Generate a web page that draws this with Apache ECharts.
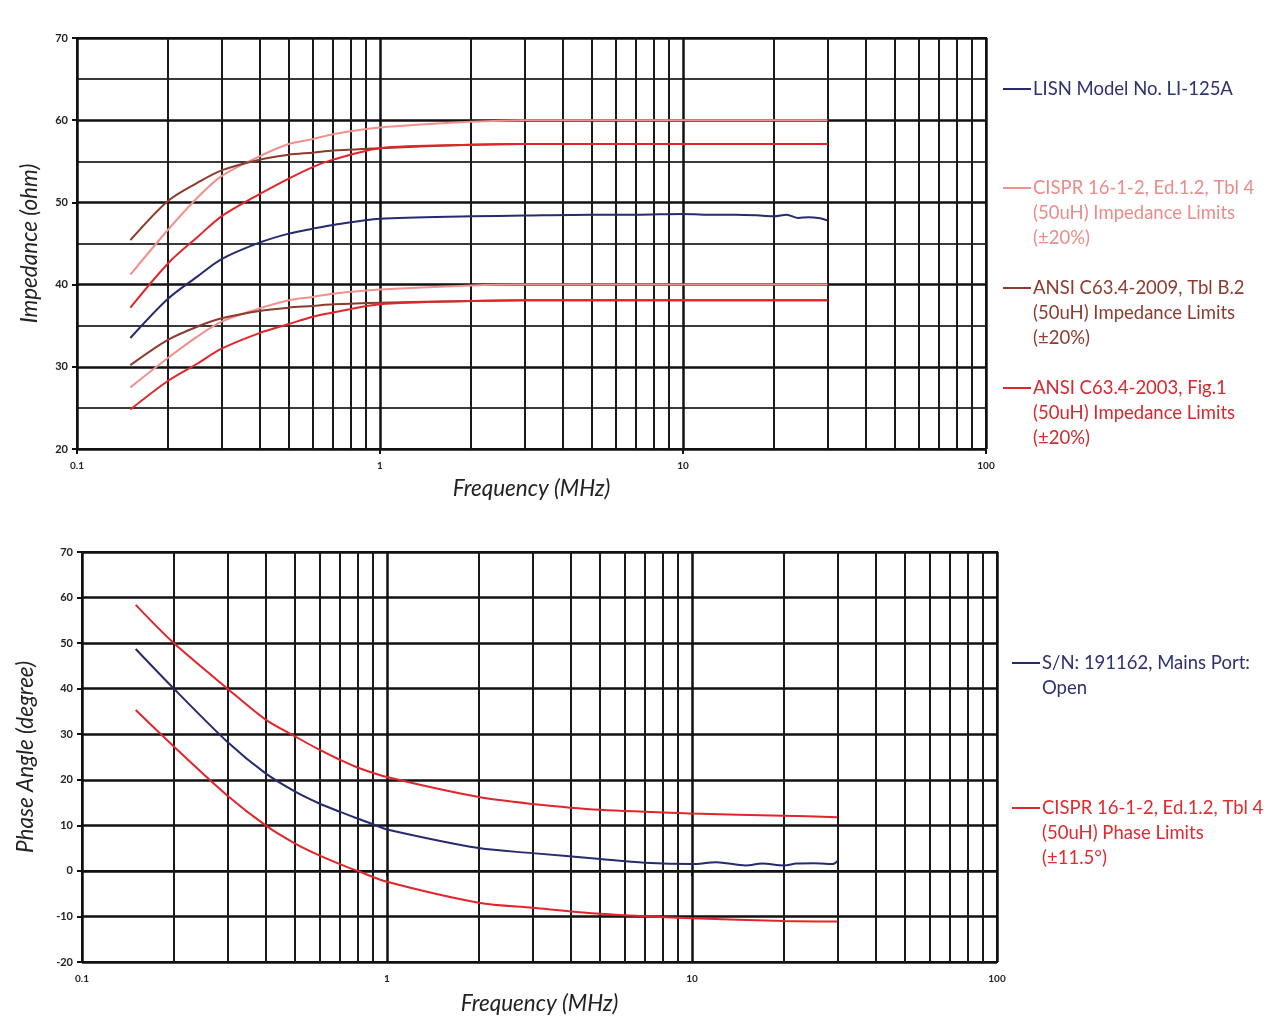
<!DOCTYPE html>
<html><head><meta charset="utf-8">
<script src="https://cdn.jsdelivr.net/npm/echarts@6/dist/echarts.min.js"></script>
<style>html,body{margin:0;padding:0;background:#fff}#c{width:1280px;height:1029px}</style>
</head><body><div id="c"></div>
<script>
// ---------- data ----------
const minorFreqs = [0.2,0.3,0.4,0.5,0.6,0.7,0.8,0.9,2,3,4,5,6,7,8,9,20,30,40,50,60,70,80,90];

const impFreq = [0.15,0.2,0.25,0.3,0.4,0.5,0.6,0.7,1,2,3,5,10,20,30];
const cisprImpUpper = [41.2,46.7,50.6,53.2,55.6,57.1,57.7,58.3,59.1,59.8,60,60,60,60,60];
const cisprImpLower = [27.5,31.1,33.7,35.5,37.1,38.1,38.5,38.9,39.4,39.9,40,40,40,40,40];
const ansi09Upper = [45.4,50.2,52.4,53.9,55.2,55.8,56.05,56.3,56.6,57.0,57.1,57.1,57.1,57.1,57.1];
const ansi09Lower = [30.2,33.3,34.9,35.9,36.8,37.2,37.4,37.6,37.8,38.0,38.1,38.1,38.1,38.1,38.1];
const ansi03Upper = [37.2,42.6,45.8,48.3,51.0,52.9,54.3,55.2,56.6,57.0,57.1,57.1,57.1,57.1,57.1];
const ansi03Lower = [24.8,28.3,30.4,32.2,34.1,35.2,36.1,36.6,37.6,38.0,38.1,38.1,38.1,38.1,38.1];

const lisnFreq = [0.15,0.2,0.25,0.3,0.4,0.5,0.6,0.7,1,2,3,5,7,10,12,15,18,20,22,24,26,28,30];
const lisnImp = [33.5,38.3,41.0,43.1,45.1,46.2,46.8,47.25,48.0,48.3,48.4,48.5,48.5,48.6,48.5,48.5,48.4,48.3,48.5,48.1,48.2,48.1,47.8];

const phFreq = [0.15,0.2,0.3,0.4,0.5,0.6,0.7,0.8,1,2,3,5,10,20,30];
const cisprPhUpper = [58.4,50.0,40.0,33.2,29.5,26.6,24.4,22.7,20.6,16.2,14.7,13.4,12.6,12.1,11.8];
const cisprPhLower = [35.3,27.3,16.5,10.0,6.0,3.4,1.5,0.0,-2.4,-7.0,-8.1,-9.4,-10.4,-11.0,-11.1];

const snFreq = [0.15,0.2,0.3,0.4,0.5,0.6,0.7,0.8,0.9,1,2,3,5,7,10,12,15,17,20,22,25,28,29,30];
const snPhase = [48.7,40.0,28.3,21.4,17.4,14.8,13.0,11.5,10.25,9.1,5.0,3.9,2.6,1.8,1.5,1.9,1.2,1.6,1.2,1.6,1.7,1.5,1.5,2.2];

const impLegend = ['LISN Model No. LI-125A',
  'CISPR 16-1-2, Ed.1.2, Tbl 4\n(50uH) Impedance Limits\n(±20%)',
  'ANSI C63.4-2009, Tbl B.2\n(50uH) Impedance Limits\n(±20%)',
  'ANSI C63.4-2003, Fig.1\n(50uH) Impedance Limits\n(±20%)'];
const phLegend = ['S/N: 191162, Mains Port:\nOpen',
  'CISPR 16-1-2, Ed.1.2, Tbl 4\n(50uH) Phase Limits\n(±11.5°)'];

// ---------- styles ----------
const NAVY='#262a6e', PINK='#f0918d', BROWN='#8c3b2c', RED='#e2252b';
const FONT='Lato, "Open Sans", sans-serif';
const zip=(xs,ys)=>xs.map((x,i)=>[x,ys[i]]);

function lineSeries(name, xi, xs, ys, color, smooth){
  return {type:'line', name, xAxisIndex:xi, yAxisIndex:xi, data:zip(xs,ys),
    showSymbol:false, smooth:smooth===undefined?0.3:smooth, z:5,
    lineStyle:{color, width:2}, itemStyle:{color}, silent:true};
}
function gridSeries(xi, y0){
  return {type:'line', name:'grid'+xi, xAxisIndex:xi, yAxisIndex:xi, data:[[0.1,y0]],
    showSymbol:false, lineStyle:{width:0}, z:1, silent:true,
    markLine:{silent:true, symbol:['none','none'], label:{show:false},
      lineStyle:{color:'#1a1a1a', width:2, type:'solid'},
      data:minorFreqs.map(f=>({xAxis:f}))}};
}
function xAxisDef(gi){
  return {type:'log', logBase:10, min:0.1, max:100, gridIndex:gi,
    name:'Frequency (MHz)', nameLocation:'middle', nameGap:gi===0?28:30,
    nameTextStyle:{fontFamily:FONT, fontStyle:'italic', fontSize:22.5, color:'#222'},
    axisLine:{lineStyle:{color:'#111', width:2}},
    axisTick:{show:true, length:5, lineStyle:{color:'#111', width:2}},
    axisLabel:{fontFamily:FONT, fontWeight:'bold', fontSize:10, color:'#222', margin:12,
      formatter:v=>String(Number(v.toPrecision(3)))},
    splitLine:{show:true, lineStyle:{color:'#111', width:2.5}}};
}
function yAxisDef(gi, min, max, name, gap){
  return {type:'value', min, max, interval:10, gridIndex:gi,
    name, nameLocation:'middle', nameGap:gap,
    nameTextStyle:{fontFamily:FONT, fontStyle:'italic', fontSize:22.5, color:'#222'},
    axisLine:{show:true, lineStyle:{color:'#111', width:2}},
    axisTick:{show:true, length:5, lineStyle:{color:'#111', width:2}},
    axisLabel:{fontFamily:FONT, fontWeight:'bold', fontSize:11, color:'#222', margin:9},
    splitLine:{show:true, lineStyle:{color:'#111', width:2.5}},
    minorTick:{show:gi===0, splitNumber:2, length:0},
    minorSplitLine:{show:gi===0, lineStyle:{color:'#3a3a3a', width:2}}};
}

const legendDefs = [
  {text:impLegend[0], color:'#2c3170', line:NAVY, x:1003, y:89},
  {text:impLegend[1], color:'#ec8b8b', line:PINK, x:1003, y:188},
  {text:impLegend[2], color:'#8c3b2e', line:BROWN, x:1003, y:288},
  {text:impLegend[3], color:'#d7282e', line:RED, x:1003, y:388},
  {text:phLegend[0], color:'#2c3170', line:NAVY, x:1012, y:663},
  {text:phLegend[1], color:'#e02a2e', line:RED, x:1012, y:808}
];
const graphic = [];
legendDefs.forEach(d=>{
  graphic.push({type:'line', shape:{x1:d.x, y1:d.y, x2:d.x+28, y2:d.y}, style:{stroke:d.line, lineWidth:2}, silent:true});
  graphic.push({type:'text', x:d.x+30, y:d.y-12.5, style:{text:d.text, fill:d.color, fontFamily:FONT, fontSize:18.5, lineHeight:25, verticalAlign:'top'}, silent:true});
});

const option = {
  animation:false,
  backgroundColor:'#fff',
  grid:[
    {left:77, top:38, right:294, bottom:580, show:true, borderColor:'#111', borderWidth:2},
    {left:82, top:552, right:283, bottom:67, show:true, borderColor:'#111', borderWidth:2}
  ],
  xAxis:[xAxisDef(0), xAxisDef(1)],
  yAxis:[yAxisDef(0,20,70,'Impedance (ohm)',36), yAxisDef(1,-20,70,'Phase Angle (degree)',45)],
  graphic,
  series:[
    gridSeries(0,20), gridSeries(1,-20),
    lineSeries(impLegend[1],0,impFreq,cisprImpUpper,PINK),
    lineSeries(impLegend[1],0,impFreq,cisprImpLower,PINK),
    lineSeries(impLegend[2],0,impFreq,ansi09Upper,BROWN),
    lineSeries(impLegend[2],0,impFreq,ansi09Lower,BROWN),
    lineSeries(impLegend[3],0,impFreq,ansi03Upper,RED),
    lineSeries(impLegend[3],0,impFreq,ansi03Lower,RED),
    lineSeries(impLegend[0],0,lisnFreq,lisnImp,NAVY,0.3),
    lineSeries(phLegend[1],1,phFreq,cisprPhUpper,RED),
    lineSeries(phLegend[1],1,phFreq,cisprPhLower,RED),
    lineSeries(phLegend[0],1,snFreq,snPhase,NAVY,0.3)
  ]
};
const chart = echarts.init(document.getElementById('c'), null, {renderer:'canvas'});
chart.setOption(option);
</script></body></html>
